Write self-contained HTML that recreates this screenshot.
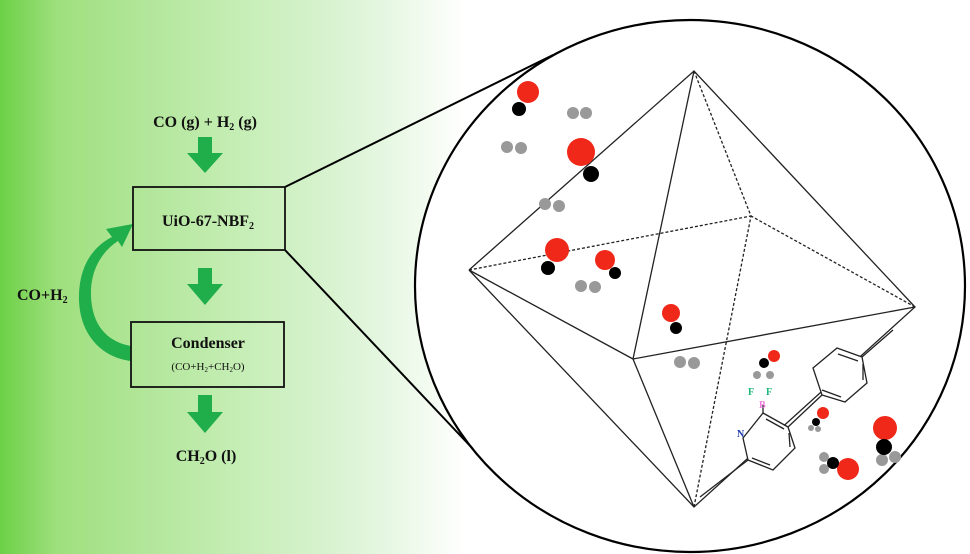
<!DOCTYPE html>
<html><head><meta charset="utf-8"><style>
html,body{margin:0;padding:0}
body{width:970px;height:554px;overflow:hidden;background:linear-gradient(to right,#6cd046 0%,#9fe07e 6%,#b2e69a 15%,#c6eeb6 25%,#d6f2cd 33%,#e6f7e2 40%,#f6fcf4 45%,#ffffff 48%,#fff 100%);position:relative;font-family:"Liberation Serif",serif}
svg{position:absolute;left:0;top:0}
</style></head><body>
<svg width="970" height="554" viewBox="0 0 970 554" font-family="Liberation Serif, serif" font-weight="bold">
<ellipse cx="690" cy="286" rx="275" ry="266" fill="#fff" stroke="#000" stroke-width="2.2"/>
<line x1="285" y1="187" x2="553" y2="55" stroke="#000" stroke-width="2"/>
<line x1="285" y1="250" x2="473" y2="449" stroke="#000" stroke-width="2"/>
<g stroke="#222" stroke-width="1.3" fill="none">
<polyline points="469,270 694,71 915,307 694,507 469,270"/>
<line x1="694" y1="71" x2="633" y2="359"/>
<line x1="469" y1="270" x2="633" y2="359"/>
<line x1="915" y1="307" x2="633" y2="359"/>
<line x1="694" y1="507" x2="633" y2="359"/>
<g stroke-dasharray="3,2">
<line x1="694" y1="71" x2="751" y2="216"/>
<line x1="469" y1="270" x2="751" y2="216"/>
<line x1="915" y1="307" x2="751" y2="216"/>
<line x1="694" y1="507" x2="751" y2="216"/>
</g>
<polygon points="763,413 788,427 795,448 773,470 748,460 743,438" fill="#fff"/>
<line x1="766" y1="419" x2="784" y2="429"/><line x1="789" y1="433" x2="790" y2="447"/><line x1="752" y1="458" x2="770" y2="465"/>
<line x1="748" y1="460" x2="700" y2="497"/>
<line x1="788" y1="427" x2="822" y2="395"/>
<polygon points="813,368 837,348 862,357 867,383 845,402 822,395" fill="#fff"/>
<line x1="838" y1="354" x2="858" y2="361"/><line x1="863" y1="364" x2="863" y2="380"/><line x1="822" y1="390" x2="841" y2="397"/>
<line x1="862" y1="357" x2="893" y2="330"/>
<line x1="763" y1="413" x2="763" y2="405"/>
</g>
<g font-size="10">
<text x="748" y="395" fill="#1cb87a">F</text><text x="766" y="395" fill="#1cb87a">F</text>
<text x="759" y="408" fill="#f080e0">B</text>
<text x="737" y="437" fill="#1a3ab0">N</text>
</g>
<g>
<g fill="#999"><circle cx="573" cy="113" r="6"/><circle cx="586" cy="113" r="6"/>
<circle cx="507" cy="147" r="6"/><circle cx="521" cy="148" r="6"/>
<circle cx="545" cy="204" r="6"/><circle cx="559" cy="206" r="6"/>
<circle cx="581" cy="286" r="6"/><circle cx="595" cy="287" r="6"/>
<circle cx="680" cy="362" r="6"/><circle cx="694" cy="363" r="6"/>
<circle cx="757" cy="375" r="4"/><circle cx="770" cy="375" r="4"/>
<circle cx="811" cy="428" r="3"/><circle cx="818" cy="429" r="3"/>
<circle cx="882" cy="460" r="6"/><circle cx="895" cy="457" r="6"/>
<circle cx="824" cy="457" r="5"/><circle cx="824" cy="469" r="5"/></g>
<g fill="#f0281a"><circle cx="528" cy="92" r="11"/><circle cx="581" cy="152" r="14"/><circle cx="557" cy="250" r="12"/><circle cx="605" cy="260" r="10"/><circle cx="671" cy="313" r="9"/><circle cx="774" cy="356" r="6"/><circle cx="823" cy="413" r="6"/><circle cx="885" cy="428" r="12"/><circle cx="848" cy="469" r="11"/></g>
<g fill="#000"><circle cx="519" cy="109" r="7"/><circle cx="591" cy="174" r="8"/><circle cx="548" cy="268" r="7"/><circle cx="615" cy="273" r="6"/><circle cx="676" cy="328" r="6"/><circle cx="764" cy="363" r="5"/><circle cx="816" cy="422" r="4"/><circle cx="884" cy="447" r="8"/><circle cx="833" cy="463" r="6"/></g>
</g>
<g fill="#1fae4a">
<polygon points="198,137 212,137 212,153 223,153 205,173 187,153 198,153"/>
<polygon points="198,268 212,268 212,284 223,284 205,305 187,284 198,284"/>
<polygon points="198,395 212,395 212,412 223,412 205,433 187,412 198,412"/>
<path d="M131,361 C98,357 78,330 79,295 C80,262 96,245 112,237 L106,229 L133,224 L122,247 L118,241 C104,250 90,268 91,296 C92,326 108,342 131,346 Z"/>
</g>
<rect x="133" y="187" width="152" height="63" fill="none" stroke="#111" stroke-width="1.8"/>
<rect x="131" y="322" width="153" height="65" fill="none" stroke="#111" stroke-width="1.8"/>
<g fill="#111" font-size="16">
<text x="205" y="127" text-anchor="middle">CO (g) + H<tspan font-size="10" dy="3">2</tspan><tspan dy="-3"> (g)</tspan></text>
<text x="208" y="226" text-anchor="middle">UiO-67-NBF<tspan font-size="10" dy="3">2</tspan></text>
<text x="208" y="348" text-anchor="middle">Condenser</text>
<text x="208" y="370" text-anchor="middle" font-weight="normal" font-size="11">(CO+H<tspan font-size="7" dy="2">2</tspan><tspan dy="-2">+CH</tspan><tspan font-size="7" dy="2">2</tspan><tspan dy="-2">O)</tspan></text>
<text x="206" y="461" text-anchor="middle">CH<tspan font-size="10" dy="3">2</tspan><tspan dy="-3">O (l)</tspan></text>
<text x="17" y="300">CO+H<tspan font-size="10" dy="3">2</tspan></text>
</g>
</svg>
</body></html>
